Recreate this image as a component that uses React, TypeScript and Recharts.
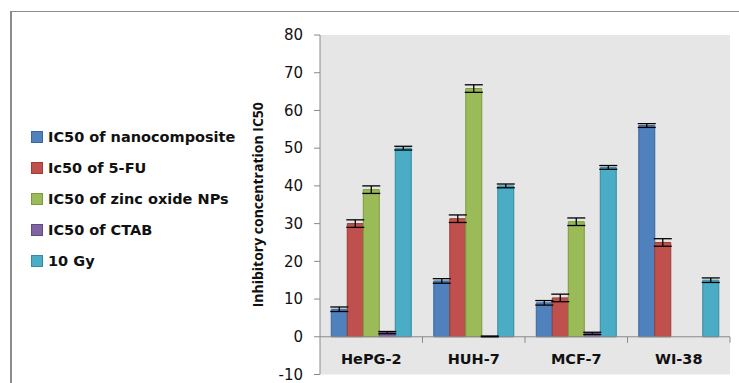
import React from 'react';
import { BarChart, Bar, XAxis, YAxis, CartesianGrid, ErrorBar, ReferenceLine, Legend } from 'recharts';

const categories = ['HePG-2', 'HUH-7', 'MCF-7', 'WI-38'];
const nanocomposite = [7.3, 14.8, 9.0, 56.0];
const nanocompositeErr = [0.6, 0.6, 0.6, 0.5];
const fu5 = [30.0, 31.3, 10.3, 25.0];
const fu5Err = [1.0, 1.0, 1.0, 1.0];
const zincOxide = [39.0, 65.8, 30.5, null];
const zincOxideErr = [1.0, 1.0, 1.0, null];
const ctab = [1.1, 0.1, 0.9, null];
const ctabErr = [0.3, 0.1, 0.3, null];
const gy10 = [50.0, 40.0, 44.9, 15.0];
const gy10Err = [0.5, 0.5, 0.5, 0.6];
const yTicks = [-10, 0, 10, 20, 30, 40, 50, 60, 70, 80];

const series = [
  { key: 'nano', name: 'IC50 of nanocomposite', values: nanocomposite, errs: nanocompositeErr, fill: '#4F81BD', stroke: '#3B679C' },
  { key: 'fu', name: 'Ic50 of 5-FU', values: fu5, errs: fu5Err, fill: '#C0504D', stroke: '#9C3C39' },
  { key: 'zinc', name: 'IC50 of zinc oxide NPs', values: zincOxide, errs: zincOxideErr, fill: '#9BBB59', stroke: '#7A9A3E' },
  { key: 'ctab', name: 'IC50 of CTAB', values: ctab, errs: ctabErr, fill: '#8064A2', stroke: '#614A80' },
  { key: 'gy', name: '10 Gy', values: gy10, errs: gy10Err, fill: '#4BACC6', stroke: '#3689A0' },
];

const data = categories.map((c, i) => {
  const row: any = { name: c };
  series.forEach((s) => {
    row[s.key] = s.values[i];
    row[s.key + 'Err'] = s.errs[i];
  });
  return row;
});

const W = 739;
const H = 383;
const XH = 2;
const M = { top: 35, right: 9, bottom: 6.5, left: 260 };
const YW = 60;
const PLOT_TOP = M.top;
const PLOT_H = H - M.top - M.bottom - XH;
const PLOT_W = W - M.left - YW - M.right;
const Y_MIN = -10;
const Y_MAX = 80;
const Y_ZERO = PLOT_TOP + (PLOT_H * (Y_MAX - 0)) / (Y_MAX - Y_MIN);
const BAND = PLOT_W / categories.length;

const XTick = (props: any) => {
  const { x, payload } = props;
  return (
    <g>
      <line x1={x + BAND / 2} x2={x + BAND / 2} y1={Y_ZERO} y2={Y_ZERO + 6} stroke="#8a8a8a" strokeWidth={1} />
      <text x={x} y={Y_ZERO + 27} textAnchor="middle" fontFamily="DejaVu Sans" fontWeight="bold" fontSize={14.5} fill="#111">
        {payload.value}
      </text>
    </g>
  );
};

const YLabel = () => {
  const cx = 258;
  const cy = PLOT_TOP + PLOT_H / 2;
  return (
    <text x={cx} y={cy} dy={5} transform={`rotate(-90 ${cx} ${cy})`} textAnchor="middle" fontFamily="Open Sans" fontWeight="bold" fontSize={14} fill="#111">
      Inhibitory concentration IC50
    </text>
  );
};

const LegendContent = () => (
  <div style={{ fontFamily: 'DejaVu Sans', fontWeight: 'bold', fontSize: 14.5, color: '#111' }}>
    {series.map((s) => (
      <div key={s.key} style={{ height: 31, display: 'flex', alignItems: 'center' }}>
        <span style={{ display: 'inline-block', width: 10, height: 10, background: s.fill, border: `1px solid ${s.stroke}`, marginRight: 5 }} />
        <span style={{ whiteSpace: 'nowrap' }}>{s.name}</span>
      </div>
    ))}
  </div>
);

export default function App() {
  return (
    <div style={{ position: 'absolute', left: 0, top: 0, width: W, height: H, background: '#fff', overflow: 'hidden' }}>
      <div style={{ position: 'absolute', left: 10, top: 11, width: W, height: H, borderLeft: '2px solid #8c8c8c', borderTop: '1px solid #8c8c8c' }} />
      <div style={{ position: 'absolute', left: 0, top: 0 }}>
        <BarChart width={W} height={H} data={data} margin={M} barCategoryGap="11%" barGap={0}>
          <CartesianGrid fill="#E6E6E6" horizontal={false} vertical={false} />
          <XAxis dataKey="name" height={XH} axisLine={false} tickLine={false} tick={(p: any) => <XTick {...p} />} interval={0} />
          <YAxis
            width={YW}
            domain={[Y_MIN, Y_MAX]}
            ticks={yTicks}
            interval={0}
            axisLine={{ stroke: '#8a8a8a' }}
            tickLine={{ stroke: '#8a8a8a' }}
            tickSize={6}
            tickMargin={11}
            tick={{ fontFamily: 'DejaVu Sans', fontSize: 15, fill: '#111' }}
            label={<YLabel />}
          />
          <ReferenceLine y={0} stroke="#8a8a8a" strokeWidth={1} />
          <Legend
            layout="vertical"
            align="center"
            verticalAlign="middle"
            content={<LegendContent />}
            wrapperStyle={{ left: 31, top: 121.5, width: 230, height: 160 }}
          />
          {series.map((s) => (
            <Bar key={s.key} dataKey={s.key} name={s.name} fill={s.fill} stroke={s.stroke} strokeWidth={1} isAnimationActive={false}>
              <ErrorBar dataKey={s.key + 'Err'} width={9} stroke="#000" strokeWidth={1.3} />
            </Bar>
          ))}
        </BarChart>
      </div>
    </div>
  );
}
